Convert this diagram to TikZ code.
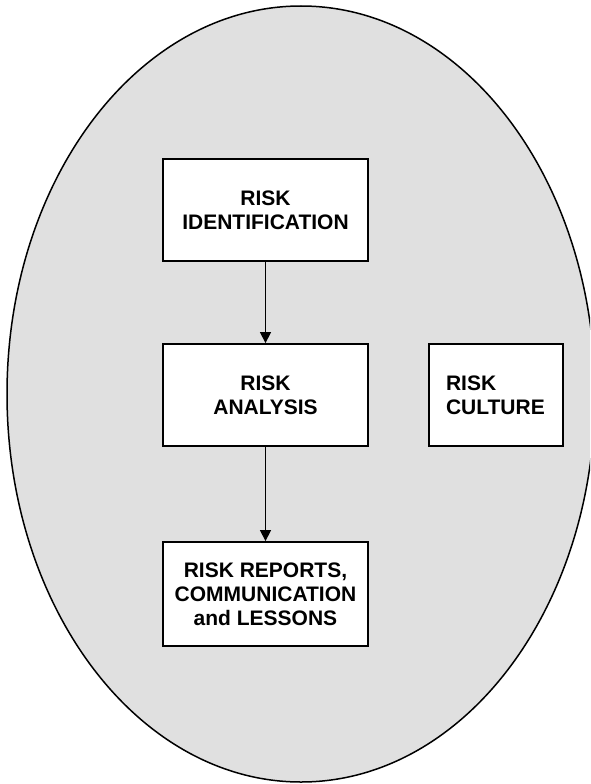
\documentclass[tikz,border=0pt]{standalone}
\usepackage{fontspec}
\setmainfont{Liberation Sans}
\usetikzlibrary{arrows.meta}
\definecolor{ovalfill}{HTML}{E0E0E0}
\begin{document}
\begin{tikzpicture}[x=1pt,y=-1pt,
  stage/.style={draw=black, line width=1.8pt, fill=white, inner sep=0pt,
    minimum width=205pt, minimum height=102pt, align=center,
    font=\bfseries\fontsize{21}{24}\selectfont},
  flow/.style={draw=black, line width=1.3pt, -{Triangle[length=11pt,width=11pt]}}]
\useasboundingbox (0,0) rectangle (590,784);
% background oval holding the process
\begin{scope}
  \clip (0,0) rectangle (590,784);
  \draw[fill=ovalfill, line width=1.5pt] (301,394) ellipse [x radius=294pt, y radius=388pt];
\end{scope}
% process steps
\node[stage] (ident) at (265.5,210) {RISK\\IDENTIFICATION};
\node[stage] (analysis) at (265.5,395) {RISK\\ANALYSIS};
\node[stage, minimum height=104pt] (reports) at (265.5,594) {RISK REPORTS,\\COMMUNICATION\\and LESSONS};
\node[stage, minimum width=134pt, text width=100pt, inner xsep=17pt, align=left] (culture) at (496,395) {RISK\\CULTURE};
% flow between steps
\draw[flow] (ident) -- (analysis);
\draw[flow] (analysis) -- (reports);
\end{tikzpicture}
\end{document}
